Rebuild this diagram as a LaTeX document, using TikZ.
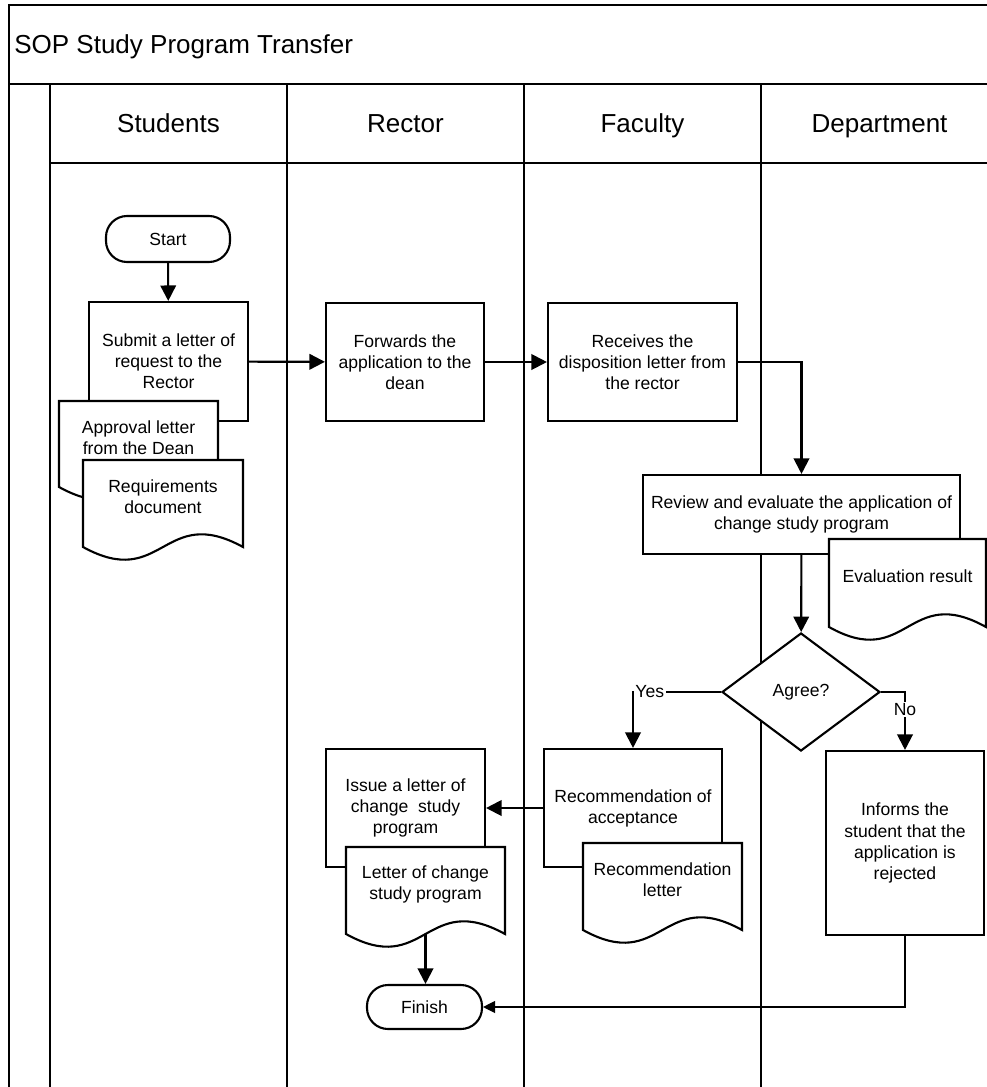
\documentclass[tikz,border=0pt]{standalone}
\usepackage{fontspec}
\setmainfont{Liberation Sans}
\usetikzlibrary{arrows.meta, shapes.geometric}

% one pixel of the layout grid
\newlength{\px}
\setlength{\px}{0.025cm}

% document shape: name, left x, top y, width, height of the side, text
\newcommand{\docnode}[6]{%
    \pgfmathsetmacro{\xr}{#2+#4}
    \pgfmathsetmacro{\xm}{#2+#4/2}
    \pgfmathsetmacro{\yb}{#3+#5}
    \filldraw[docline] (#2,#3) -- (\xr,#3) -- (\xr,\yb)
        .. controls (\xm,\yb-44) and (\xm,\yb+44) .. (#2,\yb) -- cycle;
    \node[doctext] (#1) at (\xm,#3+37) {#6};
    \coordinate (#1-b) at (\xm,\yb);
}

\begin{document}
\begin{tikzpicture}[x=0.025cm, y=-0.025cm,
        lane/.style={line width=1.05pt},
        header/.style={inner sep=0pt, anchor=base, font=\fontsize{18.5}{22}\selectfont},
        box/.style={draw, line width=1.5pt, fill=white, align=center, inner sep=0pt, font=\fontsize{12.5}{15}\selectfont},
        term/.style={box, rounded corners=21\px},
        docline/.style={line width=1.5pt, fill=white},
        doctext/.style={align=center, inner sep=0pt, font=\fontsize{12.5}{15}\selectfont},
        flow/.style={line width=1.5pt, -{Triangle[length=11pt, width=11pt]}},
        thinflow/.style={line width=0.8pt, -{Triangle[length=8.5pt, width=8.5pt]}},
        lbl/.style={fill=white, inner sep=1pt, font=\fontsize{12.5}{15}\selectfont}]

    \useasboundingbox (0,0) rectangle (987,1087);

    % Pool frame with title row and lane header row
    \draw[lane] (9,1087) -- (9,5) -- (987,5);
    \draw[lane] (9,84) -- (987,84);
    \draw[lane] (50,163) -- (987,163);
    \foreach \x in {50,287,524,761}
        \draw[lane] (\x,84) -- (\x,1087);

    \node[header, anchor=base west] (title) at (14,53) {SOP Study Program Transfer};

    % Lane names, one lane every 237 px
    \foreach \name [count=\i] in {Students, Rector, Faculty, Department} {
        \pgfmathsetmacro{\x}{50+(\i-0.5)*237}
        \node[header] (lane\i) at (\x,132) {\name};
    }

    % Students lane
    \node[term, minimum width=124\px, minimum height=46\px] (start) at (168,239) {Start};
    \node[box, minimum width=159\px, minimum height=119\px] (submit) at (168.5,361.5)
        {Submit a letter of\\request to the\\Rector};
    \docnode{approval}{59}{401}{159}{86}{Approval letter\\from the Dean}
    \docnode{requirements}{83}{460}{160}{87}{Requirements\\document}

    % Rector and Faculty lanes
    \node[box, minimum width=158\px, minimum height=118\px] (forwards) at (405,362)
        {Forwards the\\application to the\\dean};
    \node[box, minimum width=189\px, minimum height=118\px] (receives) at (642.5,362)
        {Receives the\\disposition letter from\\the rector};

    % Review across Faculty and Department
    \node[box, minimum width=317\px, minimum height=79\px] (review) at (801.5,514.5)
        {Review and evaluate the application of\\change study program};
    \docnode{evaluation}{829}{539}{157}{88}{Evaluation result}

    % Decision
    \node[box, diamond, minimum width=158\px, minimum height=118\px] (agree) at (801,692) {Agree?};

    % Outcomes
    \node[box, minimum width=178\px, minimum height=118\px] (recommend) at (633,808)
        {Recommendation of\\acceptance};
    \docnode{recletter}{583}{843}{159}{87}{Recommendation\\letter}
    \node[box, minimum width=159\px, minimum height=118\px] (issue) at (405.5,808)
        {Issue a letter of\\change~ study\\program};
    \docnode{letterdoc}{346}{847}{159}{87}{Letter of change\\study program}
    \node[term, minimum width=115\px, minimum height=44\px] (finish) at (424.5,1007) {Finish};
    \node[box, minimum width=158\px, minimum height=184\px] (informs) at (905,843)
        {Informs the\\student that the\\application is\\rejected};

    % Connectors
    \draw[flow] (start) -- (submit);
    \draw[flow] (submit) -- (forwards);
    \draw[flow] (forwards) -- (receives);
    \draw[flow] (receives.east) -| (review.north);
    \draw[flow] (review) -- (agree);
    \draw[flow] (agree.west) -| node[lbl, pos=0.5, anchor=west] (yes) {Yes} (recommend.north);
    \draw[flow] (agree.east) -| node[lbl, pos=0.65] (no) {No} (informs.north);
    \draw[flow] (recommend) -- (issue);
    \draw[flow] (letterdoc-b) -- (letterdoc-b |- finish.north);
    \draw[thinflow] (informs.south) |- (finish.east);

\end{tikzpicture}
\end{document}
